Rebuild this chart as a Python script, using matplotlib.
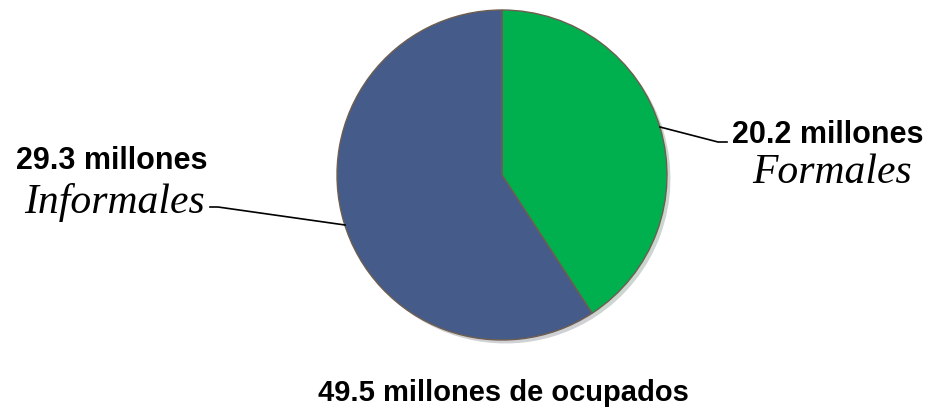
import matplotlib.pyplot as plt

# datos
labels = ["Formales", "Informales"]
values = [20.2, 29.3]
value_labels = ["20.2 millones", "29.3 millones"]
total_label = "49.5 millones de ocupados"
colors = ["#00b04f", "#455b8a"]

W, H = 934, 407

fig = plt.figure(figsize=(W / 100, H / 100), dpi=100)
ax = fig.add_axes([0, 0, 1, 1])

cx, cy, r = 502, H - 175, 165
ax.pie(values, colors=colors, startangle=90, counterclock=False,
       center=(cx, cy), radius=r, frame=True,
       wedgeprops=dict(edgecolor="#6e5e50", linewidth=1.0),
       shadow=dict(ox=2.5, oy=-2.5, alpha=0.2, edgecolor="none"))
ax.set_xlim(0, W)
ax.set_ylim(0, H)
ax.set_aspect("equal")
ax.axis("off")

bold = dict(family=["Liberation Sans", "DejaVu Sans"], fontweight="bold", fontsize=22)
ital = dict(family=["Liberation Serif", "DejaVu Serif"], fontstyle="italic", fontsize=30)

# Formales (derecha)
ax.plot([660, 718, 727], [H - 127, H - 142, H - 142], color="black", lw=1.2)
ax.text(828, H - 143, value_labels[0], ha="center", va="baseline", **bold)
ax.text(832, H - 183, labels[0], ha="center", va="baseline", **ital)

# Informales (izquierda)
ax.plot([345, 218, 210], [H - 225, H - 207, H - 207], color="black", lw=1.2)
ax.text(112, H - 169, value_labels[1], ha="center", va="baseline", **bold)
ax.text(115, H - 213, labels[1], ha="center", va="baseline", **ital)

ax.text(503, H - 401, total_label, ha="center", va="baseline",
        family=["Liberation Sans", "DejaVu Sans"], fontweight="bold", fontsize=21)

fig.savefig("out.png", dpi=100)
